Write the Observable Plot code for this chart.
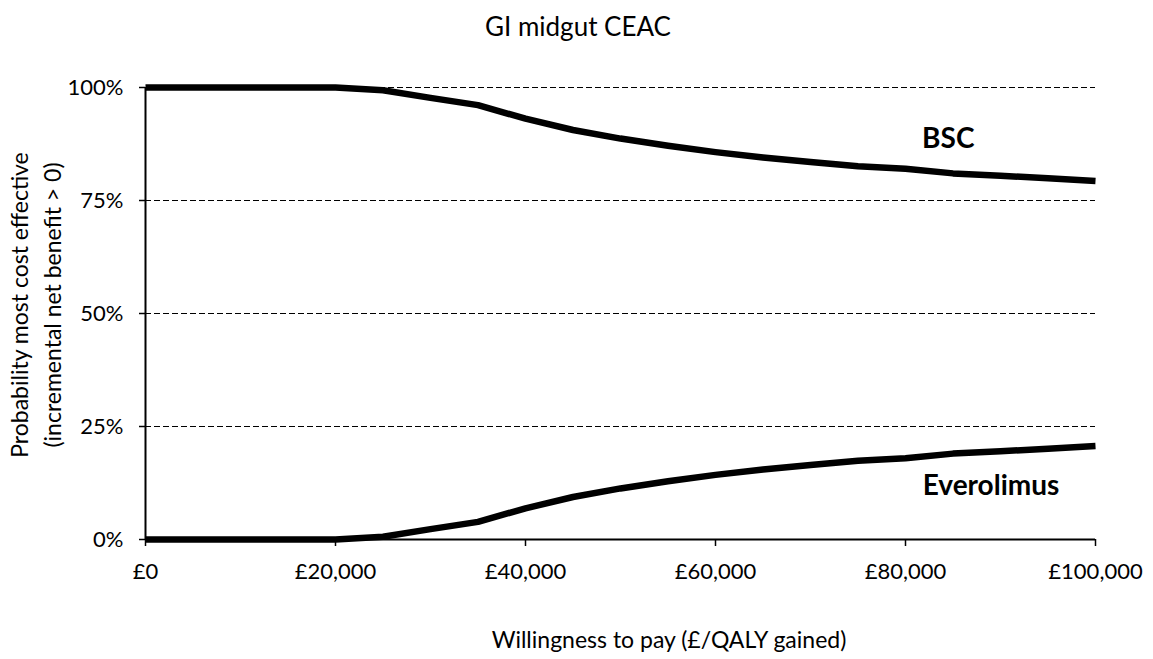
<!DOCTYPE html>
<html>
<head>
<meta charset="utf-8">
<script src="https://cdn.jsdelivr.net/npm/d3@7"></script>
<script src="https://cdn.jsdelivr.net/npm/@observablehq/plot@0.6"></script>
<style>
  html, body { margin: 0; padding: 0; background: #fff; }
  svg { font-family: Lato, "Open Sans", sans-serif; }
</style>
</head>
<body>
<div id="chart"></div>
<script>
const wtp = [0, 5000, 10000, 15000, 20000, 25000, 30000, 35000, 40000, 45000, 50000, 55000, 60000, 65000, 70000, 75000, 80000, 85000, 90000, 95000, 100000];
const bsc = [100, 100, 100, 100, 100, 99.4, 97.7, 96.1, 93.1, 90.6, 88.7, 87.1, 85.7, 84.5, 83.5, 82.6, 82.0, 81.0, 80.5, 79.9, 79.3];
const everolimus = [0, 0, 0, 0, 0, 0.6, 2.3, 3.9, 6.9, 9.4, 11.3, 12.9, 14.3, 15.5, 16.5, 17.4, 18.0, 19.0, 19.5, 20.1, 20.7];
const seriesNames = ["BSC", "Everolimus"];
const labelX = [84500, 89000];
const labelY = [88.5, 11.9];
const yTicks = [0, 25, 50, 75, 100];
const xTicks = [0, 20000, 40000, 60000, 80000, 100000];
const gridY = [25, 50, 75, 100];
const title = "GI midgut CEAC";
const xLabel = "Willingness to pay (£/QALY gained)";
const yLabel1 = "Probability most cost effective";
const yLabel2 = "(incremental net benefit > 0)";

const rows = [];
wtp.forEach((x, i) => {
  rows.push({series: "BSC", x, y: bsc[i]});
  rows.push({series: "Everolimus", x, y: everolimus[i]});
});
const labels = seriesNames.map((s, i) => ({s, x: labelX[i], y: labelY[i]}));

const W = 1153, H = 659;
const chart = Plot.plot({
  width: W,
  height: H,
  marginLeft: 145,
  marginRight: 58,
  marginTop: 87,
  marginBottom: 120,
  style: {fontFamily: "Lato, 'Open Sans', sans-serif", fontSize: "22px", color: "#000", background: "#fff"},
  x: {domain: [0, 100000]},
  y: {domain: [0, 100]},
  marks: [
    Plot.ruleY(gridY, {stroke: "#000", strokeWidth: 1, strokeDasharray: "6,3"}),
    Plot.axisY({ticks: yTicks, tickFormat: d => d + "%", tickSize: 6, tickPadding: 16, label: null, fontSize: 22, stroke: "#000", strokeWidth: 1.5}),
    Plot.axisX({ticks: xTicks, tickFormat: d => "£" + d3.format(",")(d), tickSize: 7, tickPadding: 17, label: null, fontSize: 22, stroke: "#000", strokeWidth: 1.5}),
    Plot.ruleX([0], {stroke: "#000", strokeWidth: 2}),
    Plot.ruleY([0], {stroke: "#000", strokeWidth: 2}),
    Plot.line(rows, {x: "x", y: "y", z: "series", stroke: "#000", strokeWidth: 6.5, strokeLinejoin: "round", strokeLinecap: "butt"}),
    Plot.text(labels, {x: "x", y: "y", text: "s", fontWeight: "bold", fontSize: 28, fill: "#000"})
  ]
});

const svg = d3.select(chart);
svg.append("text").attr("x", 578).attr("y", 36).attr("text-anchor", "middle")
  .style("font-size", "26px").attr("fill", "#000").text(title);
svg.append("text").attr("x", 669).attr("y", 648).attr("text-anchor", "middle")
  .style("font-size", "23px").attr("fill", "#000").text(xLabel);
svg.append("text").attr("transform", "translate(22,305) rotate(-90)").attr("text-anchor", "middle").attr("dominant-baseline", "middle")
  .style("font-size", "23px").attr("fill", "#000").text(yLabel1);
svg.append("text").attr("transform", "translate(55,305) rotate(-90)").attr("text-anchor", "middle").attr("dominant-baseline", "middle")
  .style("font-size", "23px").attr("fill", "#000").text(yLabel2);

document.getElementById("chart").appendChild(chart);
</script>
</body>
</html>
